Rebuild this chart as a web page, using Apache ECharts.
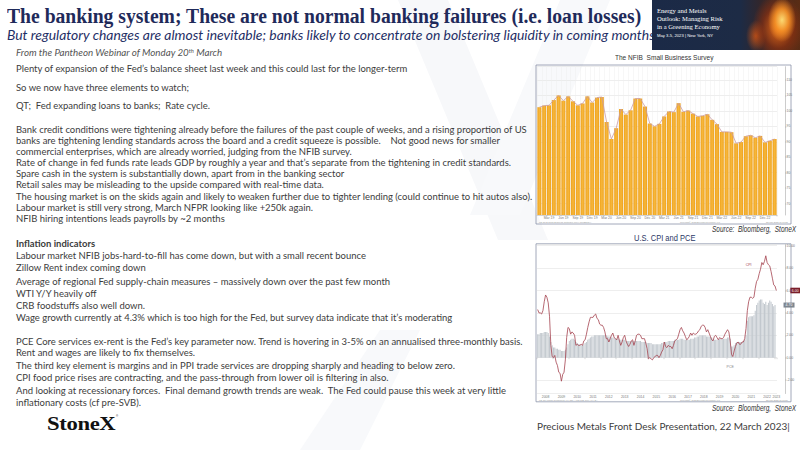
<!DOCTYPE html>
<html><head><meta charset="utf-8">
<script src="https://cdn.jsdelivr.net/npm/echarts@6/dist/echarts.min.js"></script>
<style>
html,body{margin:0;padding:0;width:800px;height:450px;overflow:hidden;background:#fff;}
#wm{position:absolute;left:0;top:0;width:800px;height:450px;}
#chart{position:absolute;left:0;top:0;width:800px;height:450px;}
#txt{position:absolute;left:0;top:0;width:800px;height:450px;pointer-events:none;}
.t{position:absolute;white-space:nowrap;transform-origin:0 50%;line-height:1;}
.body{font-family:Lato,"Noto Sans",sans-serif;color:#3c3c3c;left:16px;}
#banner{position:absolute;left:652px;top:0;width:148px;height:50px;
 background:
  radial-gradient(ellipse 14px 22px at 130px 20px, rgba(255,225,120,0.95), rgba(250,150,40,0.85) 50%, rgba(200,80,20,0) 100%),
  radial-gradient(ellipse 26px 34px at 126px 28px, rgba(235,110,25,0.95), rgba(150,50,15,0.6) 60%, rgba(60,25,20,0) 100%),
  radial-gradient(ellipse 10px 16px at 104px 36px, rgba(220,90,20,0.8), rgba(60,25,20,0) 100%),
  linear-gradient(90deg,#1b2a47 0%,#1d2b45 60%,#33262a 74%,#4a2a1c 88%,#5a2c14 100%);}
.bn{position:absolute;color:#fff;font-family:"Liberation Serif",serif;white-space:nowrap;line-height:1;}
</style></head><body>
<svg id="wm" width="800" height="450">
  <polygon points="398,0 448,0 548,240 498,240" fill="#f7f8fa"/>
  <polygon points="560,0 610,0 520,215 470,215" fill="#f8f9fb"/>
  <polygon points="300,450 360,450 420,330 380,330" fill="#f8f9fb"/>
</svg>
<div id="chart"></div>
<div id="txt"></div>
<div id="banner">
  <div class="bn" style="left:5px;top:8px;font-size:6.6px;">Energy and Metals</div>
  <div class="bn" style="left:5px;top:16px;font-size:6.6px;">Outlook: Managing Risk</div>
  <div class="bn" style="left:5px;top:24px;font-size:6.6px;">in a Greening Economy</div>
  <div class="bn" style="left:5px;top:34px;font-size:4.2px;font-family:'Liberation Sans',sans-serif;">May 3-5, 2023 | New York, NY</div>
</div>
<script>
// ---------------- DATA ----------------
// NFIB Small Business Optimism index, monthly Jan 2019 - Feb 2023
const nfibYears = ["19","20","21","22","23"];
const monthNames = ["Jan","Feb","Mar","Apr","May","Jun","Jul","Aug","Sep","Oct","Nov","Dec"];
const nfibValues = [
  101.2, 101.7, 101.8, 103.5, 105.0, 103.3, 104.7, 103.1, 101.8, 102.4, 104.7, 102.7,
  104.3, 104.5, 96.4, 90.9, 94.4, 100.6, 98.8, 100.2, 104.0, 104.0, 101.4, 95.9,
  95.0, 95.8, 98.2, 99.8, 99.6, 102.5, 99.7, 100.1, 99.1, 98.2, 98.4, 98.9,
  97.1, 95.7, 93.2, 93.2, 93.1, 89.5, 89.9, 91.8, 92.1, 91.3, 91.9, 89.8,
  90.3, 90.9
];
// US CPI y/y (line), Jan 2008 - Feb 2023
const cpiYears = ["2008","2009","2010","2011","2012","2013","2014","2015","2016","2017","2018","2019","2020","2021","2022","2023"];
const cpiValues = [
  4.3, 4.0, 4.0, 3.9, 4.2, 5.0, 5.6, 5.4, 4.9, 3.7, 1.1, 0.1,
  0.0, 0.2, -0.4, -0.7, -1.3, -1.4, -2.1, -1.5, -1.3, -0.2, 1.8, 2.7,
  2.6, 2.1, 2.3, 2.2, 2.0, 1.1, 1.2, 1.1, 1.1, 1.2, 1.1, 1.5,
  1.6, 2.1, 2.7, 3.2, 3.6, 3.6, 3.6, 3.8, 3.9, 3.5, 3.4, 3.0,
  2.9, 2.9, 2.7, 2.3, 1.7, 1.7, 1.4, 1.7, 2.0, 2.2, 1.8, 1.7,
  1.6, 2.0, 1.5, 1.1, 1.4, 1.8, 2.0, 1.5, 1.2, 1.0, 1.2, 1.5,
  1.6, 1.1, 1.5, 2.0, 2.1, 2.1, 2.0, 1.7, 1.7, 1.7, 1.3, 0.8,
  -0.1, 0.0, -0.1, -0.2, 0.0, 0.1, 0.2, 0.2, 0.0, 0.2, 0.5, 0.7,
  1.4, 1.0, 0.9, 1.1, 1.0, 1.0, 0.8, 1.1, 1.5, 1.6, 1.7, 2.1,
  2.5, 2.7, 2.4, 2.2, 1.9, 1.6, 1.7, 1.9, 2.2, 2.0, 2.2, 2.1,
  2.1, 2.2, 2.4, 2.5, 2.8, 2.9, 2.9, 2.7, 2.3, 2.5, 2.2, 1.9,
  1.6, 1.5, 1.9, 2.0, 1.8, 1.6, 1.8, 1.7, 1.7, 1.8, 2.1, 2.3,
  2.5, 2.3, 1.5, 0.3, 0.1, 0.6, 1.0, 1.3, 1.4, 1.2, 1.2, 1.4,
  1.4, 1.7, 2.6, 4.2, 5.0, 5.4, 5.4, 5.3, 5.4, 6.2, 6.8, 7.0,
  7.5, 7.9, 8.5, 8.3, 8.6, 9.1, 8.5, 8.3, 8.2, 7.7, 7.1, 6.5,
  6.4, 6.0
];
// PCE y/y (bars), Jan 2008 - Jan 2023
const pceValues = [
  2.1, 2.1, 2.2, 2.2, 2.2, 2.3, 2.3, 2.3, 2.2, 1.9, 1.4, 1.1,
  0.9, 0.9, 0.8, 0.8, 0.7, 0.7, 0.6, 0.6, 0.6, 0.7, 0.9, 1.2,
  1.5, 1.6, 1.7, 1.7, 1.6, 1.4, 1.3, 1.2, 1.2, 1.1, 1.1, 1.2,
  1.3, 1.4, 1.6, 1.7, 1.8, 1.9, 1.9, 2.0, 2.0, 2.0, 2.0, 2.0,
  2.0, 2.0, 2.0, 2.0, 2.0, 1.9, 1.9, 1.9, 1.8, 1.8, 1.8, 1.7,
  1.7, 1.7, 1.6, 1.6, 1.6, 1.6, 1.6, 1.5, 1.5, 1.5, 1.5, 1.5,
  1.5, 1.5, 1.5, 1.5, 1.5, 1.5, 1.5, 1.4, 1.4, 1.4, 1.4, 1.3,
  1.3, 1.3, 1.3, 1.2, 1.2, 1.2, 1.2, 1.2, 1.2, 1.2, 1.3, 1.3,
  1.4, 1.4, 1.4, 1.5, 1.5, 1.5, 1.5, 1.5, 1.6, 1.6, 1.6, 1.6,
  1.7, 1.7, 1.7, 1.6, 1.6, 1.6, 1.6, 1.6, 1.7, 1.7, 1.7, 1.8,
  1.8, 1.9, 1.9, 2.0, 2.0, 2.0, 2.0, 2.0, 1.9, 1.9, 1.9, 1.9,
  1.8, 1.7, 1.6, 1.6, 1.6, 1.6, 1.7, 1.7, 1.7, 1.7, 1.7, 1.7,
  1.8, 1.8, 1.7, 1.0, 1.0, 1.1, 1.3, 1.4, 1.4, 1.4, 1.4, 1.4,
  1.5, 1.6, 2.0, 3.3, 3.6, 3.7, 3.7, 3.7, 3.8, 4.2, 4.7, 4.9,
  5.1, 5.2, 5.2, 4.9, 4.8, 5.0, 4.7, 4.9, 5.1, 5.0, 4.8, 4.6,
  4.7
];

// categories
const nfibCats = [];
nfibYears.forEach(y => monthNames.forEach(m => nfibCats.push(m + " " + y)));
nfibCats.length = nfibValues.length;
const cpiCats = [];
cpiYears.forEach(y => monthNames.forEach(m => cpiCats.push(m + " " + y)));
cpiCats.length = cpiValues.length;

// ---------------- TEXT ----------------
const txt = document.getElementById('txt');
function addText(str, opts) {
  const d = document.createElement('div');
  d.className = 't ' + (opts.cls || '');
  d.textContent = str;
  if (opts.html) d.innerHTML = opts.html;
  Object.assign(d.style, opts.style || {});
  txt.appendChild(d);
  const h = d.offsetHeight;
  d.style.top = (opts.y - h / 2) + 'px';
  if (opts.left !== undefined) d.style.left = opts.left + 'px';
  if (opts.width) {
    const w = d.offsetWidth;
    d.style.transform = 'scaleX(' + (opts.width / w) + ')';
  }
  if (opts.right !== undefined) {
    const w = opts.width || d.offsetWidth;
    d.style.left = (opts.right - w) + 'px';
  }
  if (opts.center !== undefined) {
    const w = opts.width || d.offsetWidth;
    d.style.left = (opts.center - w / 2) + 'px';
  }
  return d;
}
addText("The banking system; These are not normal banking failures (i.e. loan losses)",
  {y: 16, left: 7, width: 634, style: {fontFamily: "'Liberation Serif',serif", fontWeight: 'bold', fontSize: '20px', lineHeight: '19px', color: '#1f2a5a'}});
addText("But regulatory changes are almost inevitable; banks likely to concentrate on bolstering liquidity in coming months",
  {y: 35.2, left: 7, width: 648, style: {fontFamily: "Lato,'Noto Sans',sans-serif", fontStyle: 'italic', fontSize: '13.5px', lineHeight: '13px', color: '#1f2f66'}});
addText("", {y: 52, left: 16, width: 206, html: "From the Pantheon Webinar of Monday 20<sup style='font-size:0.6em;vertical-align:0.5em;line-height:0'>th</sup> March",
  style: {fontFamily: "Lato,'Noto Sans',sans-serif", fontStyle: 'italic', fontSize: '9px', color: '#555'}});

// measure body font size
const probe = document.createElement('span');
probe.style.cssText = "position:absolute;visibility:hidden;white-space:nowrap;font-family:Lato,'Noto Sans',sans-serif;font-size:10px;";
probe.textContent = "Bank credit conditions were tightening already before the failures of the past couple of weeks, and a rising proportion of US";
document.body.appendChild(probe);
const bodyFs = 10 * 511 / probe.offsetWidth;
probe.remove();

const bodyLines = [
  ["Plenty of expansion of the Fed’s balance sheet last week and this could last for the longer-term", 68],
  ["So we now have three elements to watch;", 87],
  ["QT;  Fed expanding loans to banks;  Rate cycle.", 105],
  ["Bank credit conditions were tightening already before the failures of the past couple of weeks, and a rising proportion of US", 129],
  ["banks are tightening lending standards across the board and a credit squeeze is possible.    Not good news for smaller", 140],
  ["commercial enterprises, which are already worried, judging from the NFIB survey.", 151],
  ["Rate of change in fed funds rate leads GDP by roughly a year and that’s separate from the tightening in credit standards.", 162],
  ["Spare cash in the system is substantially down, apart from in the banking sector", 173],
  ["Retail sales may be misleading to the upside compared with real-time data.", 184],
  ["The housing market is on the skids again and likely to weaken further due to tighter lending (could continue to hit autos also).", 196],
  ["Labour market is still very strong, March NFPR looking like +250k again.", 207],
  ["NFIB hiring intentions leads payrolls by ~2 months", 218],
  ["Inflation indicators", 243, true],
  ["Labour market NFIB jobs-hard-to-fill has come down, but with a small recent bounce", 255],
  ["Zillow Rent index coming down", 267],
  ["Average of regional Fed supply-chain measures – massively down over the past few month", 281],
  ["WTI Y/Y heavily off", 293.5],
  ["CRB foodstuffs also well down.", 305.5],
  ["Wage growth currently at 4.3% which is too high for the Fed, but survey data indicate that it’s moderating", 317.3],
  ["PCE Core services ex-rent is the Fed’s key parameter now. Trend is hovering in 3-5% on an annualised three-monthly basis.", 341.7],
  ["Rent and wages are likely to fix themselves.", 352.9],
  ["The third key element is margins and in PPI trade services are dropping sharply and heading to below zero.", 365.3],
  ["CPI food price rises are contracting, and the pass-through from lower oil is filtering in also.", 377.7],
  ["And looking at recessionary forces.  Final demand growth trends are weak.  The Fed could pause this week at very little", 390],
  ["inflationary costs (cf pre-SVB).", 402.3]
];
bodyLines.forEach(l => addText(l[0], {y: l[1], left: 16, cls: 'body',
  style: {fontSize: bodyFs + 'px', fontWeight: l[2] ? 'bold' : 'normal', whiteSpace: 'pre'}}));

addText("StoneX", {y: 423, left: 47, width: 68, style: {fontFamily: "'Liberation Serif',serif", fontWeight: 'bold', fontSize: '19px', color: '#111', letterSpacing: '-0.3px'}});
addText("®", {y: 416, left: 116, style: {fontFamily: "'Liberation Sans',sans-serif", fontSize: '3px', color: '#111'}});

addText("The NFIB  Small Business Survey", {y: 57.5, center: 664, width: 98, style: {fontFamily: "'Liberation Sans',sans-serif", fontSize: '8px', color: '#333', whiteSpace: 'pre'}});
addText("U.S. CPI and PCE", {y: 238.5, center: 664, width: 61, style: {fontFamily: "'Liberation Sans',sans-serif", fontSize: '8.5px', color: '#2a3766'}});
addText("Source:  Bloomberg,  StoneX", {y: 229.5, right: 796, width: 84, style: {fontFamily: "'Liberation Sans',sans-serif", fontStyle: 'italic', fontSize: '8.5px', color: '#333', whiteSpace: 'pre'}});
addText("Source:  Bloomberg,  StoneX", {y: 408.5, right: 796, width: 84, style: {fontFamily: "'Liberation Sans',sans-serif", fontStyle: 'italic', fontSize: '8.5px', color: '#333', whiteSpace: 'pre'}});
addText("Precious Metals Front Desk Presentation, 22 March 2023|", {y: 425.5, left: 537, width: 253, style: {fontFamily: "Lato,'Noto Sans',sans-serif", fontSize: '10px', color: '#3c3c3c'}});

// ---------------- CHART ----------------
const chart = echarts.init(document.getElementById('chart'), null, {renderer: 'svg', width: 800, height: 450});
const tiny = {fontSize: 3.4, color: '#777', fontFamily: 'Liberation Sans'};
const foot = {fontSize: 2.2, fill: '#9a9a9a', fontFamily: 'Liberation Sans'};
const lastPce = pceValues[pceValues.length - 1];
const lastCpi = cpiValues[cpiValues.length - 1];
chart.setOption({
  animation: false,
  backgroundColor: 'transparent',
  grid: [
    {left: 537, top: 66.7, width: 240, height: 148.3, containLabel: false},
    {left: 537, top: 244.6, width: 240, height: 148.9, containLabel: false}
  ],
  xAxis: [
    {type: 'category', gridIndex: 0, data: nfibCats, boundaryGap: true,
     axisLine: {show: true, lineStyle: {color: '#bbb', width: 0.5}},
     axisTick: {show: true, interval: (i) => i % 3 === 2, length: 1.5, lineStyle: {color: '#999', width: 0.4}},
     axisLabel: Object.assign({}, tiny, {margin: 1.2, interval: (i) => i % 3 === 2}),
     splitLine: {show: true, interval: 0, lineStyle: {color: '#eeeeee', width: 0.5}}},
    {type: 'category', gridIndex: 1, data: cpiCats, boundaryGap: true,
     axisLine: {show: false},
     axisTick: {show: true, interval: (i) => i % 12 === 0, length: 1.5, lineStyle: {color: '#999', width: 0.4}},
     axisLabel: Object.assign({}, tiny, {margin: 1.5, interval: (i) => i % 12 === 6 || i === cpiCats.length - 1,
       formatter: (v) => v.slice(4)}),
     splitLine: {show: false}}
  ],
  yAxis: [
    {type: 'value', gridIndex: 0, position: 'right', offset: 8, min: 66.3, max: 114.3, minInterval: 5, maxInterval: 5,
     axisLine: {show: true, lineStyle: {color: '#999', width: 0.5}},
     axisTick: {show: true, length: 1.5, lineStyle: {color: '#999', width: 0.4}},
     axisLabel: Object.assign({}, tiny, {margin: 1.5, showMinLabel: false, showMaxLabel: false}),
     splitLine: {show: true, lineStyle: {color: '#e2e2e2', width: 0.6}}},
    {type: 'value', gridIndex: 1, position: 'right', offset: 8, min: -3.2, max: 10.1, minInterval: 2, maxInterval: 2,
     axisLine: {show: true, lineStyle: {color: '#999', width: 0.5}},
     axisTick: {show: true, length: 1.5, lineStyle: {color: '#999', width: 0.4}},
     axisLabel: Object.assign({}, tiny, {margin: 1.5, showMinLabel: false, showMaxLabel: false, formatter: (v) => v.toFixed(2)}),
     splitLine: {show: true, lineStyle: {color: '#e2e2e2', width: 0.6}}}
  ],
  series: [
    {type: 'bar', xAxisIndex: 0, yAxisIndex: 0, data: nfibValues, barCategoryGap: '16%',
     itemStyle: {color: new echarts.graphic.LinearGradient(0, 0, 1, 0, [
       {offset: 0, color: '#EFA21C'}, {offset: 0.5, color: '#F6B73C'}, {offset: 1, color: '#EFA21C'}])}},
    {type: 'line', xAxisIndex: 0, yAxisIndex: 0, data: nfibValues, symbol: 'none',
     lineStyle: {color: '#c99aa3', width: 0.8}, z: 5},
    {type: 'bar', xAxisIndex: 1, yAxisIndex: 1, data: pceValues, barCategoryGap: '22%',
     itemStyle: {color: '#c2c8ce'},
     markPoint: {symbol: 'rect', symbolSize: [11, 5], silent: true,
       data: [{coord: [pceValues.length - 1, lastPce], symbolOffset: [14, 0],
         itemStyle: {color: '#7d8690'},
         label: {show: true, position: 'inside', formatter: lastPce.toFixed(2), fontSize: 3.5, color: '#fff'}}]}},
    {type: 'line', xAxisIndex: 1, yAxisIndex: 1, data: cpiValues, symbol: 'none', clip: false,
     lineStyle: {color: '#a4434f', width: 0.8}, z: 5,
     endLabel: {show: true, formatter: () => lastCpi.toFixed(2), offset: [6, 0], fontSize: 3.5, color: '#fff',
       backgroundColor: '#7a1d2a', padding: [0.8, 1.5]},
     markPoint: {symbol: 'circle', symbolSize: 0, silent: true,
       data: [
         {coord: [160, 8.3], label: {show: true, formatter: 'CPI', fontSize: 3.5, color: '#a4434f', position: 'inside'}},
         {coord: [146, -0.8], label: {show: true, formatter: 'PCE', fontSize: 3.5, color: '#888', position: 'inside'}}
       ]}}
  ],
  graphic: [
    {type: 'rect', shape: {x: 536, y: 65, width: 255, height: 159}, style: {fill: 'none', stroke: '#8a93a8', lineWidth: 0.8}, silent: true},
    {type: 'rect', shape: {x: 536, y: 243.8, width: 255, height: 158}, style: {fill: 'none', stroke: '#8a93a8', lineWidth: 0.8}, silent: true},
    {type: 'text', left: 539, top: 221.2, style: Object.assign({text: 'US NFIB Small Business Optimism Index (NFIBBIDX)'}, foot)},
    {type: 'text', left: 680, top: 221.2, style: Object.assign({text: 'Copyright© 2023 Bloomberg Finance L.P.'}, foot)},
    {type: 'text', left: 766, top: 221.2, style: Object.assign({text: '22-Mar-2023 10:16:32'}, foot)},
    {type: 'text', left: 539, top: 399.2, style: Object.assign({text: 'US CPI Urban Consumers YoY NSA / US PCE Core YoY SA'}, foot)},
    {type: 'text', left: 680, top: 399.2, style: Object.assign({text: 'Copyright© 2023 Bloomberg Finance L.P.'}, foot)},
    {type: 'text', left: 766, top: 399.2, style: Object.assign({text: '22-Mar-2023 10:16:37'}, foot)}
  ]
});
</script>
</body></html>
